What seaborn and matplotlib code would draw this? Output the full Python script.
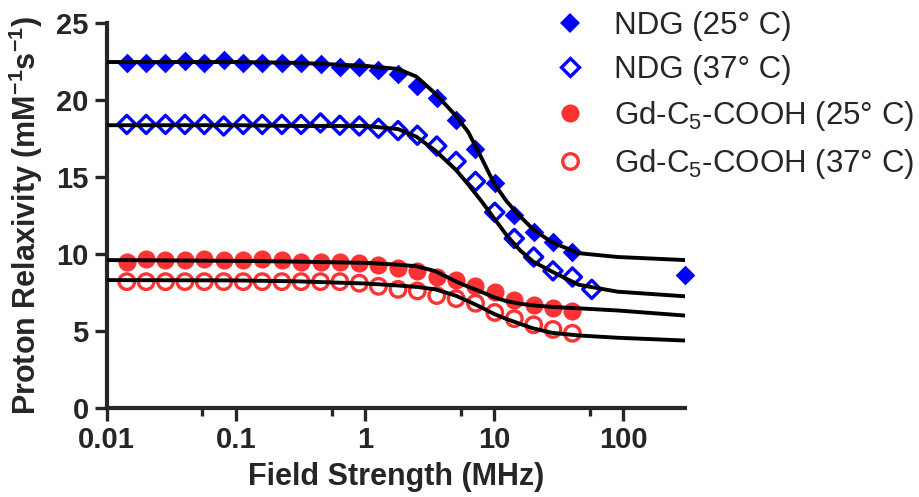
import numpy as np
import pandas as pd
import matplotlib
matplotlib.use("Agg")
import matplotlib.pyplot as plt
from matplotlib.lines import Line2D
import seaborn as sns

# measured field strengths (MHz)
freq = [0.0143, 0.0202, 0.0285, 0.0403, 0.0569, 0.0804, 0.114, 0.160, 0.227,
        0.320, 0.452, 0.638, 0.902, 1.27, 1.80, 2.54, 3.59, 5.07, 7.16, 10.1,
        14.3, 20.2, 28.5, 40.3, 56.9]
freq_high = [300]

ndg_25 = [22.4, 22.4, 22.4, 22.5, 22.4, 22.6, 22.4, 22.4, 22.4, 22.4, 22.3, 22.1,
          22.1, 21.9, 21.7, 20.9, 20.1, 18.7, 16.8, 14.6, 12.5, 11.4, 10.8, 10.1]
ndg_25_high = [8.6]
ndg_37 = [18.4, 18.4, 18.4, 18.4, 18.4, 18.3, 18.4, 18.4, 18.4, 18.4, 18.5, 18.35,
          18.3, 18.15, 18.0, 17.7, 17.0, 16.0, 14.7, 12.7, 11.0, 9.8, 8.9, 8.5, 7.7]
gd_25 = [9.5, 9.7, 9.6, 9.6, 9.7, 9.6, 9.6, 9.7, 9.6, 9.5, 9.5, 9.5, 9.4, 9.3,
         9.1, 8.9, 8.5, 8.3, 7.9, 7.5, 7.0, 6.7, 6.5, 6.3]
gd_37 = [8.2, 8.2, 8.2, 8.2, 8.2, 8.2, 8.2, 8.2, 8.2, 8.2, 8.2, 8.2, 8.1, 7.9,
         7.7, 7.6, 7.3, 7.1, 6.8, 6.2, 5.8, 5.4, 5.1, 4.85]

# fitted curves
fit_freq = [0.01, 0.1, 0.3, 1, 1.8, 2.5, 3.5, 5, 6.3, 8, 10, 12.5, 16, 20, 28,
            45, 90, 300]
fit_ndg_25 = [22.45, 22.45, 22.4, 22.2, 22.0, 21.5, 20.4, 19.0, 17.9, 16.2, 14.55,
              13.4, 12.4, 11.6, 10.75, 10.05, 9.8, 9.6]
fit_ndg_37 = [18.35, 18.35, 18.3, 18.3, 18.1, 17.6, 16.7, 15.5, 14.5, 13.4, 12.3,
              11.2, 10.2, 9.5, 8.85, 8.0, 7.55, 7.25]
fit_gd_25 = [9.6, 9.55, 9.5, 9.42, 9.3, 9.2, 8.88, 8.23, 7.87, 7.53, 7.18, 6.93,
             6.76, 6.66, 6.56, 6.47, 6.33, 6.0]
fit_gd_37 = [8.3, 8.28, 8.22, 8.08, 7.95, 7.86, 7.7, 7.3, 6.93, 6.52, 6.1, 5.77,
             5.45, 5.17, 4.88, 4.71, 4.56, 4.38]

labels = ["NDG (25° C)", "NDG (37° C)",
          "Gd-C$_5$-COOH (25° C)", "Gd-C$_5$-COOH (37° C)"]
x_ticks = [0.01, 0.1, 1, 10, 100]
x_tick_labels = ["0.01", "0.1", "1", "10", "100"]
x_minor = [0.055, 0.55, 5.5, 55]
y_ticks = [0, 5, 10, 15, 20, 25]

blue = "#0000ff"
red = "#ff3333"

sns.set_style("ticks")
plt.rcParams["font.family"] = ["Liberation Sans", "DejaVu Sans"]
plt.rcParams["mathtext.default"] = "regular"

fig = plt.figure(figsize=(9.2, 4.97), dpi=100)
ax = fig.add_axes([0.116, 0.179, 0.6286, 0.7753])

# fit lines
for vals in [fit_ndg_25, fit_ndg_37, fit_gd_25, fit_gd_37]:
    sns.lineplot(x=fit_freq, y=vals, color="black", lw=2.8, ax=ax,
                 estimator=None, sort=False, zorder=3)

# data points
n25 = len(ndg_25)
sns.scatterplot(x=freq[:n25] + freq_high, y=ndg_25 + ndg_25_high, marker="D",
                s=100, color=blue, edgecolor=blue, linewidth=0, ax=ax,
                zorder=2, clip_on=False)
sns.scatterplot(x=freq, y=ndg_37, marker="D", s=85, color=blue,
                facecolor="none", edgecolor=blue, linewidth=2.4, ax=ax, zorder=2)
sns.scatterplot(x=freq[:len(gd_25)], y=gd_25, marker="o", s=170, color=red,
                edgecolor=red, linewidth=0, ax=ax, zorder=2)
sns.scatterplot(x=freq[:len(gd_37)], y=gd_37, marker="o", s=125, color=red,
                facecolor="none", edgecolor=red, linewidth=2.4, ax=ax, zorder=2)

ax.set_xscale("log")
ax.set_xlim(0.01, 300)
ax.set_ylim(0, 25)
ax.set_xticks(x_ticks)
ax.set_xticklabels(x_tick_labels)
ax.set_xticks(x_minor, minor=True)
ax.set_xticklabels([], minor=True)
ax.set_yticks(y_ticks)

sns.despine(ax=ax)
for side in ["left", "bottom"]:
    ax.spines[side].set_linewidth(3)
ax.tick_params(axis="both", which="major", length=9, width=2.4, pad=4,
               labelsize=21)
ax.tick_params(axis="x", which="minor", length=6, width=2.4)
for lab in ax.get_xticklabels() + ax.get_yticklabels():
    lab.set_fontweight("bold")

ax.set_xlabel("Field Strength (MHz)", fontsize=22, fontweight="bold", labelpad=6)
ax.set_ylabel("Proton Relaxivity (mM$^{-1}$s$^{-1}$)", fontsize=22,
              fontweight="bold", labelpad=8)

handles = [
    Line2D([], [], ls="none", marker="D", ms=10, mfc=blue, mec=blue, mew=0),
    Line2D([], [], ls="none", marker="D", ms=9.2, mfc="none", mec=blue, mew=2.4),
    Line2D([], [], ls="none", marker="o", ms=13, mfc=red, mec=red, mew=0),
    Line2D([], [], ls="none", marker="o", ms=11.2, mfc="none", mec=red, mew=2.4),
]
fig.legend(handles=handles, labels=labels, loc="upper left",
           bbox_to_anchor=(0.6026, 0.978), frameon=False, fontsize=22.5,
           handlelength=1.0, handletextpad=0.9, labelspacing=0.45,
           borderpad=0, borderaxespad=0)

fig.savefig("out.png", dpi=100)
